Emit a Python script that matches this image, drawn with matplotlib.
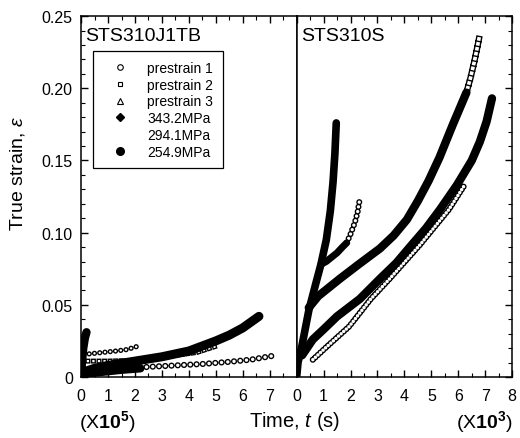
import matplotlib
matplotlib.use("Agg")
import matplotlib.pyplot as plt
from matplotlib.lines import Line2D
from matplotlib.ticker import MultipleLocator

plt.rcParams['font.family'] = ['Liberation Sans', 'DejaVu Sans']
plt.rcParams['mathtext.fontset'] = 'custom'
plt.rcParams['mathtext.rm'] = 'Liberation Sans'
plt.rcParams['mathtext.it'] = 'Liberation Sans:italic'
plt.rcParams['mathtext.bf'] = 'Liberation Sans:bold'
plt.rcParams['lines.scale_dashes'] = False

# ---- STS310J1TB (time x 10^5 s) ----
l343_t = [0, 0.03, 0.08, 0.14, 0.2]
l343_v = [0, 0.01, 0.02, 0.027, 0.031]
l294_t = [0.05, 0.5, 1.0, 1.5, 2.2]
l294_v = [0.001, 0.003, 0.004, 0.005, 0.006]
l254_t = [0, 0.5, 1, 2, 3, 4, 5, 5.5, 6, 6.6]
l254_v = [0.003, 0.006, 0.008, 0.011, 0.014, 0.018, 0.025, 0.029, 0.034, 0.042]
lp1_t = [1.5, 2.5, 3.5, 4.5, 5.5, 6.3, 7.07]
lp1_v = [0.0055, 0.007, 0.008, 0.009, 0.0105, 0.012, 0.0145]
lp2_t = [0.25, 1.0, 2.0, 3.0, 3.5, 4.3, 4.96]
lp2_v = [0.011, 0.011, 0.0115, 0.013, 0.015, 0.017, 0.021]
lp3_t = [0.3, 0.8, 1.3, 1.7, 2.05]
lp3_v = [0.016, 0.017, 0.018, 0.019, 0.021]

# ---- STS310S (time x 10^3 s) ----
r343_t = [0, 0.05, 0.2, 0.45, 0.7, 0.9, 1.1, 1.25, 1.35, 1.42, 1.47]
r343_v = [0, 0.01, 0.022, 0.046, 0.064, 0.078, 0.095, 0.115, 0.135, 0.155, 0.176]
rb_t = [0.9, 1.1, 1.3, 1.5, 1.7, 1.86]
rb_v = [0.078, 0.08, 0.083, 0.086, 0.09, 0.093]
rp3_t = [1.86, 2.0, 2.16, 2.26, 2.34]
rp3_v = [0.093, 0.099, 0.107, 0.114, 0.123]
rc_t = [0.45, 0.8, 1.2, 1.6, 2.3, 3.09, 3.6, 4.09, 4.5, 4.9, 5.3, 5.8, 6.3]
rc_v = [0.048, 0.056, 0.062, 0.068, 0.078, 0.089, 0.098, 0.109, 0.122, 0.136, 0.152, 0.175, 0.197]
rp2_t = [6.3, 6.45, 6.6, 6.7, 6.8]
rp2_v = [0.197, 0.207, 0.219, 0.228, 0.2375]
rd_t = [0.2, 0.6, 1.0, 1.5, 2.34, 3.09, 3.7, 4.2, 4.8, 5.32, 5.95, 6.5, 6.8, 7.05, 7.25]
rd_v = [0.015, 0.026, 0.033, 0.042, 0.054, 0.068, 0.079, 0.09, 0.103, 0.116, 0.133, 0.150, 0.163, 0.177, 0.193]
rp1_t = [0.6, 1.12, 1.95, 2.75, 3.45, 4.55, 5.65, 6.2]
rp1_v = [0.012, 0.021, 0.035, 0.054, 0.068, 0.091, 0.116, 0.132]

legend_labels = ["prestrain 1", "prestrain 2", "prestrain 3", "343.2MPa", "294.1MPa", "254.9MPa"]


def solid(ax, t, v, lw):
    ax.plot(t, v, color='black', lw=lw, solid_capstyle='round', solid_joinstyle='round')


def hollow(ax, t, v, cap='round', size=4.5, gap=4.2):
    # row of open markers: black dots with white centres on the same dash pattern
    ax.plot(t, v, color='black', lw=size, dashes=(0.01, gap), dash_capstyle=cap)
    ax.plot(t, v, color='white', lw=size - 2.0, dashes=(0.01, gap), dash_capstyle=cap)


fig = plt.figure(figsize=(5.2, 4.39), dpi=100)
fig.subplots_adjust(left=0.156, right=0.985, top=0.961, bottom=0.139, wspace=0)
ax1 = fig.add_subplot(1, 2, 1)
ax2 = fig.add_subplot(1, 2, 2, sharey=ax1)

# left panel
hollow(ax1, lp1_t, lp1_v, size=4.5, gap=4.5)
hollow(ax1, lp2_t, lp2_v, cap='projecting', size=3.6, gap=4.0)
hollow(ax1, lp3_t, lp3_v, size=3.8, gap=3.8)
solid(ax1, l294_t, l294_v, 6)
solid(ax1, l254_t, l254_v, 6.5)
solid(ax1, l343_t, l343_v, 6)

# right panel
hollow(ax2, rp1_t, rp1_v, size=4.5, gap=2.5)
solid(ax2, rd_t, rd_v, 6)
hollow(ax2, rp2_t, rp2_v, cap='projecting', size=4.6, gap=3.6)
solid(ax2, rc_t, rc_v, 6)
hollow(ax2, rp3_t, rp3_v, size=4.4, gap=3.4)
solid(ax2, rb_t, rb_v, 5)
solid(ax2, r343_t, r343_v, 5.5)

for ax in (ax1, ax2):
    ax.set_xlim(0, 8)
    ax.set_ylim(0, 0.25)
    ax.xaxis.set_major_locator(MultipleLocator(1))
    ax.xaxis.set_minor_locator(MultipleLocator(0.5))
    ax.yaxis.set_major_locator(MultipleLocator(0.05))
    ax.yaxis.set_minor_locator(MultipleLocator(0.01))
    ax.tick_params(which='both', direction='in', top=True, labelsize=11.5)
    ax.tick_params(axis='x', pad=8)
    ax.tick_params(axis='y', pad=6)
    ax.tick_params(which='major', length=5, width=1)
    ax.tick_params(which='minor', length=3, width=0.8)
    for s in ax.spines.values():
        s.set_linewidth(1.1)

ax1.set_xticks(range(0, 8))
ax1.set_xticklabels([str(i) for i in range(0, 8)])
ax1.set_yticks([0, 0.05, 0.10, 0.15, 0.20, 0.25])
ax1.set_yticklabels(["0", "0.05", "0.10", "0.15", "0.20", "0.25"])
ax1.tick_params(axis='y', which='both', left=True, right=False)
ax2.tick_params(axis='y', which='both', left=False, right=True, labelleft=False)

ax1.text(0.02, 0.97, "STS310J1TB", transform=ax1.transAxes, fontsize=14, va='top', ha='left')
ax2.text(0.02, 0.97, "STS310S", transform=ax2.transAxes, fontsize=14, va='top', ha='left')

handles = [
    Line2D([], [], ls='none', marker='o', ms=4, mfc='white', mec='black', mew=0.8),
    Line2D([], [], ls='none', marker='s', ms=3.5, mfc='white', mec='black', mew=0.8),
    Line2D([], [], ls='none', marker='^', ms=4, mfc='white', mec='black', mew=0.8),
    Line2D([], [], ls='none', marker='D', ms=4, mfc='black', mec='black'),
    Line2D([], [], ls='none', marker='none'),
    Line2D([], [], ls='none', marker='o', ms=5.5, mfc='black', mec='black'),
]
leg = ax1.legend(handles, legend_labels, loc='upper left', bbox_to_anchor=(0.056, 0.903),
                 fontsize=10, frameon=True, fancybox=False, framealpha=1, edgecolor='black',
                 handlelength=2.4, handletextpad=0.8, labelspacing=0.2, borderpad=0.7,
                 borderaxespad=0)
leg.get_frame().set_linewidth(0.9)

fig.text(0.016, 0.605, r"True strain, $\epsilon$", rotation=90, fontsize=14, ha='left', va='center')
fig.text(0.567, 0.039, r"Time, $t$ (s)", fontsize=14.5, ha='center', va='center')
fig.text(0.152, 0.039, r"(X$\mathbf{10^5}$)", fontsize=14, ha='left', va='center')
fig.text(0.986, 0.039, r"(X$\mathbf{10^3}$)", fontsize=14, ha='right', va='center')

fig.savefig("out.png", dpi=100)
